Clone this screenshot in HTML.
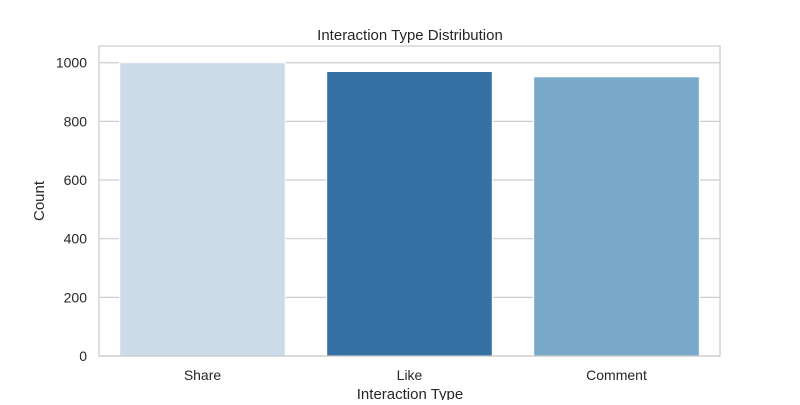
<!DOCTYPE html>
<html><head><meta charset="utf-8"><style>
body{margin:0;background:#fff;}
svg text{font-family:"Liberation Sans","DejaVu Sans",sans-serif;fill:#262626;}
</style></head><body>
<svg id="chart" width="800" height="400" xmlns="http://www.w3.org/2000/svg">
<rect x="0" y="0" width="800" height="400" fill="#fff"/>
<text x="410" y="40" font-size="15" text-anchor="middle">Interaction Type Distribution</text>
<g id="grid"></g><g id="bars"></g><g id="axes"></g>
<rect x="99" y="46" width="621" height="310" fill="none" stroke="#ccc" stroke-width="1.25"/>
<text x="410" y="399" font-size="15" text-anchor="middle">Interaction Type</text>
<text transform="translate(44,201) rotate(-90)" font-size="15" text-anchor="middle">Count</text>
</svg>
<script>
const categories=["Share","Like","Comment"];
const counts=[1000,970,952];
const colors=["#cbdbea","#3470a3","#78a9c9"];
const yTicks=[0,200,400,600,800,1000];
const L=99,R=720,T=46,B=356,YMAX=1057;
const ns="http://www.w3.org/2000/svg";
function y(v){return B-(v/YMAX)*(B-T);}
const band=(R-L)/categories.length;
function x(i){return L+band*i+band/2;}
const g=document.getElementById('grid'),bg=document.getElementById('bars'),ag=document.getElementById('axes');
yTicks.forEach(t=>{
const l=document.createElementNS(ns,'line');
l.setAttribute('x1',L);l.setAttribute('x2',R);l.setAttribute('y1',y(t));l.setAttribute('y2',y(t));
l.setAttribute('stroke','#ccc');l.setAttribute('stroke-width','1.2');


g.appendChild(l);
const tx=document.createElementNS(ns,'text');
tx.setAttribute('x',L-12);tx.setAttribute('y',y(t)+5);tx.setAttribute('font-size','14');tx.setAttribute('text-anchor','end');
tx.textContent=t;


ag.appendChild(tx);
});
categories.forEach((c,i)=>{
const w=band*0.8;
const r=document.createElementNS(ns,'rect');
r.setAttribute('x',x(i)-w/2);r.setAttribute('width',w);r.setAttribute('y',y(counts[i]));r.setAttribute('height',B-y(counts[i]));
r.setAttribute('fill',colors[i]);r.setAttribute('stroke','#fff');r.setAttribute('stroke-width','1');


bg.appendChild(r);
const tx=document.createElementNS(ns,'text');
tx.setAttribute('x',x(i));tx.setAttribute('y',B+24);tx.setAttribute('font-size','14');tx.setAttribute('text-anchor','middle');
tx.textContent=c;


ag.appendChild(tx);
});
</script>
</body></html>
